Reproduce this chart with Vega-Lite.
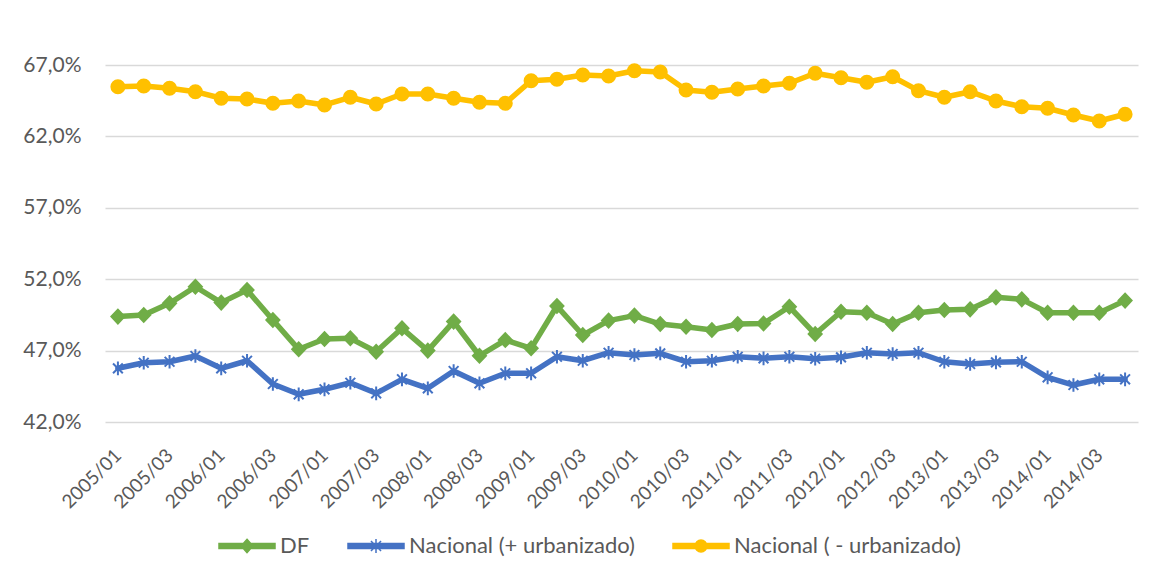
{
  "$schema": "https://vega.github.io/schema/vega-lite/v6.json",
  "width": 1033,
  "height": 357,
  "autosize": {"type": "none"},
  "padding": {"left": 105, "top": 65, "right": 28, "bottom": 159},
  "background": "white",
  "config": {
    "view": {"stroke": null},
    "font": "Lato",
    "axis": {"labelColor": "#595959", "labelFont": "Lato"},
    "legend": {"labelColor": "#595959", "labelFont": "Lato", "labelLimit": 0}
  },
  "data": {"values": [
    {"t":"2005/01","s":"DF","v":49.38},{"t":"2005/02","s":"DF","v":49.49},{"t":"2005/03","s":"DF","v":50.31},{"t":"2005/04","s":"DF","v":51.47},
    {"t":"2006/01","s":"DF","v":50.36},{"t":"2006/02","s":"DF","v":51.24},{"t":"2006/03","s":"DF","v":49.14},{"t":"2006/04","s":"DF","v":47.09},
    {"t":"2007/01","s":"DF","v":47.81},{"t":"2007/02","s":"DF","v":47.86},{"t":"2007/03","s":"DF","v":46.92},{"t":"2007/04","s":"DF","v":48.56},
    {"t":"2008/01","s":"DF","v":47.0},{"t":"2008/02","s":"DF","v":49.03},{"t":"2008/03","s":"DF","v":46.64},{"t":"2008/04","s":"DF","v":47.74},
    {"t":"2009/01","s":"DF","v":47.16},{"t":"2009/02","s":"DF","v":50.12},{"t":"2009/03","s":"DF","v":48.09},{"t":"2009/04","s":"DF","v":49.1},
    {"t":"2010/01","s":"DF","v":49.45},{"t":"2010/02","s":"DF","v":48.86},{"t":"2010/03","s":"DF","v":48.67},{"t":"2010/04","s":"DF","v":48.44},
    {"t":"2011/01","s":"DF","v":48.86},{"t":"2011/02","s":"DF","v":48.9},{"t":"2011/03","s":"DF","v":50.07},{"t":"2011/04","s":"DF","v":48.16},
    {"t":"2012/01","s":"DF","v":49.72},{"t":"2012/02","s":"DF","v":49.65},{"t":"2012/03","s":"DF","v":48.86},{"t":"2012/04","s":"DF","v":49.65},
    {"t":"2013/01","s":"DF","v":49.84},{"t":"2013/02","s":"DF","v":49.89},{"t":"2013/03","s":"DF","v":50.73},{"t":"2013/04","s":"DF","v":50.59},
    {"t":"2014/01","s":"DF","v":49.65},{"t":"2014/02","s":"DF","v":49.65},{"t":"2014/03","s":"DF","v":49.65},{"t":"2014/04","s":"DF","v":50.5},

    {"t":"2005/01","s":"Nacional (+ urbanizado)","v":45.76},{"t":"2005/02","s":"Nacional (+ urbanizado)","v":46.15},{"t":"2005/03","s":"Nacional (+ urbanizado)","v":46.22},{"t":"2005/04","s":"Nacional (+ urbanizado)","v":46.62},
    {"t":"2006/01","s":"Nacional (+ urbanizado)","v":45.76},{"t":"2006/02","s":"Nacional (+ urbanizado)","v":46.29},{"t":"2006/03","s":"Nacional (+ urbanizado)","v":44.66},{"t":"2006/04","s":"Nacional (+ urbanizado)","v":43.94},
    {"t":"2007/01","s":"Nacional (+ urbanizado)","v":44.29},{"t":"2007/02","s":"Nacional (+ urbanizado)","v":44.75},{"t":"2007/03","s":"Nacional (+ urbanizado)","v":44.01},{"t":"2007/04","s":"Nacional (+ urbanizado)","v":44.99},
    {"t":"2008/01","s":"Nacional (+ urbanizado)","v":44.36},{"t":"2008/02","s":"Nacional (+ urbanizado)","v":45.57},{"t":"2008/03","s":"Nacional (+ urbanizado)","v":44.71},{"t":"2008/04","s":"Nacional (+ urbanizado)","v":45.41},
    {"t":"2009/01","s":"Nacional (+ urbanizado)","v":45.41},{"t":"2009/02","s":"Nacional (+ urbanizado)","v":46.57},{"t":"2009/03","s":"Nacional (+ urbanizado)","v":46.29},{"t":"2009/04","s":"Nacional (+ urbanizado)","v":46.85},
    {"t":"2010/01","s":"Nacional (+ urbanizado)","v":46.69},{"t":"2010/02","s":"Nacional (+ urbanizado)","v":46.81},{"t":"2010/03","s":"Nacional (+ urbanizado)","v":46.22},{"t":"2010/04","s":"Nacional (+ urbanizado)","v":46.29},
    {"t":"2011/01","s":"Nacional (+ urbanizado)","v":46.57},{"t":"2011/02","s":"Nacional (+ urbanizado)","v":46.46},{"t":"2011/03","s":"Nacional (+ urbanizado)","v":46.57},{"t":"2011/04","s":"Nacional (+ urbanizado)","v":46.43},
    {"t":"2012/01","s":"Nacional (+ urbanizado)","v":46.53},{"t":"2012/02","s":"Nacional (+ urbanizado)","v":46.85},{"t":"2012/03","s":"Nacional (+ urbanizado)","v":46.76},{"t":"2012/04","s":"Nacional (+ urbanizado)","v":46.85},
    {"t":"2013/01","s":"Nacional (+ urbanizado)","v":46.22},{"t":"2013/02","s":"Nacional (+ urbanizado)","v":46.06},{"t":"2013/03","s":"Nacional (+ urbanizado)","v":46.18},{"t":"2013/04","s":"Nacional (+ urbanizado)","v":46.22},
    {"t":"2014/01","s":"Nacional (+ urbanizado)","v":45.13},{"t":"2014/02","s":"Nacional (+ urbanizado)","v":44.59},{"t":"2014/03","s":"Nacional (+ urbanizado)","v":44.99},{"t":"2014/04","s":"Nacional (+ urbanizado)","v":44.99},

    {"t":"2005/01","s":"Nacional ( - urbanizado)","v":65.48},{"t":"2005/02","s":"Nacional ( - urbanizado)","v":65.53},{"t":"2005/03","s":"Nacional ( - urbanizado)","v":65.37},{"t":"2005/04","s":"Nacional ( - urbanizado)","v":65.13},
    {"t":"2006/01","s":"Nacional ( - urbanizado)","v":64.67},{"t":"2006/02","s":"Nacional ( - urbanizado)","v":64.62},{"t":"2006/03","s":"Nacional ( - urbanizado)","v":64.32},{"t":"2006/04","s":"Nacional ( - urbanizado)","v":64.48},
    {"t":"2007/01","s":"Nacional ( - urbanizado)","v":64.2},{"t":"2007/02","s":"Nacional ( - urbanizado)","v":64.74},{"t":"2007/03","s":"Nacional ( - urbanizado)","v":64.27},{"t":"2007/04","s":"Nacional ( - urbanizado)","v":64.97},
    {"t":"2008/01","s":"Nacional ( - urbanizado)","v":64.97},{"t":"2008/02","s":"Nacional ( - urbanizado)","v":64.67},{"t":"2008/03","s":"Nacional ( - urbanizado)","v":64.39},{"t":"2008/04","s":"Nacional ( - urbanizado)","v":64.32},
    {"t":"2009/01","s":"Nacional ( - urbanizado)","v":65.9},{"t":"2009/02","s":"Nacional ( - urbanizado)","v":66.0},{"t":"2009/03","s":"Nacional ( - urbanizado)","v":66.3},{"t":"2009/04","s":"Nacional ( - urbanizado)","v":66.23},
    {"t":"2010/01","s":"Nacional ( - urbanizado)","v":66.6},{"t":"2010/02","s":"Nacional ( - urbanizado)","v":66.51},{"t":"2010/03","s":"Nacional ( - urbanizado)","v":65.25},{"t":"2010/04","s":"Nacional ( - urbanizado)","v":65.09},
    {"t":"2011/01","s":"Nacional ( - urbanizado)","v":65.32},{"t":"2011/02","s":"Nacional ( - urbanizado)","v":65.53},{"t":"2011/03","s":"Nacional ( - urbanizado)","v":65.72},{"t":"2011/04","s":"Nacional ( - urbanizado)","v":66.42},
    {"t":"2012/01","s":"Nacional ( - urbanizado)","v":66.11},{"t":"2012/02","s":"Nacional ( - urbanizado)","v":65.79},{"t":"2012/03","s":"Nacional ( - urbanizado)","v":66.18},{"t":"2012/04","s":"Nacional ( - urbanizado)","v":65.2},
    {"t":"2013/01","s":"Nacional ( - urbanizado)","v":64.74},{"t":"2013/02","s":"Nacional ( - urbanizado)","v":65.13},{"t":"2013/03","s":"Nacional ( - urbanizado)","v":64.48},{"t":"2013/04","s":"Nacional ( - urbanizado)","v":64.08},
    {"t":"2014/01","s":"Nacional ( - urbanizado)","v":63.97},{"t":"2014/02","s":"Nacional ( - urbanizado)","v":63.5},{"t":"2014/03","s":"Nacional ( - urbanizado)","v":63.08},{"t":"2014/04","s":"Nacional ( - urbanizado)","v":63.55}
  ]},
  "encoding": {
    "x": {
      "field": "t", "type": "ordinal", "sort": null,
      "scale": {"type": "point", "padding": 0.5},
      "axis": {
        "title": null,
        "values": ["2005/01","2005/03","2006/01","2006/03","2007/01","2007/03","2008/01","2008/03","2009/01","2009/03","2010/01","2010/03","2011/01","2011/03","2012/01","2012/03","2013/01","2013/03","2014/01","2014/03"],
        "labelAngle": -45, "labelAlign": "right", "labelBaseline": "middle",
        "labelFontSize": 19, "labelPadding": 30, "labelOverlap": false, "labelBound": false, "labelFlush": false,
        "ticks": false, "domain": false, "grid": false
      }
    },
    "y": {
      "field": "v", "type": "quantitative",
      "scale": {"domain": [42, 67], "nice": false, "zero": false},
      "axis": {
        "title": null,
        "values": [42, 47, 52, 57, 62, 67],
        "labelExpr": "replace(format(datum.value, '.1f'), '.', ',') + '%'",
        "labelFontSize": 21, "labelPadding": 24,
        "ticks": false, "domain": false,
        "grid": true, "gridColor": "#d9d9d9", "gridWidth": 1.3
      }
    }
  },
  "layer": [
    {
      "mark": {"type": "line", "strokeWidth": 5.5, "strokeCap": "round", "strokeJoin": "round"},
      "encoding": {
        "color": {"field": "s", "type": "nominal", "legend": null,
          "scale": {"domain": ["DF", "Nacional (+ urbanizado)", "Nacional ( - urbanizado)"], "range": ["#70AD47", "#4472C4", "#FFC000"]}}
      }
    },
    {
      "mark": {"type": "point", "filled": true, "opacity": 1, "strokeWidth": 2, "size": 170},
      "encoding": {
        "color": {"field": "s", "type": "nominal", "legend": null,
          "scale": {"domain": ["DF", "Nacional (+ urbanizado)", "Nacional ( - urbanizado)"], "range": ["#70AD47", "#4472C4", "#FFC000"]}},
        "stroke": {"field": "s", "type": "nominal", "legend": null,
          "scale": {"domain": ["DF", "Nacional (+ urbanizado)", "Nacional ( - urbanizado)"], "range": ["#70AD47", "#4472C4", "#FFC000"]}},
        "shape": {"field": "s", "type": "nominal", "legend": null,
          "scale": {"domain": ["DF", "Nacional (+ urbanizado)", "Nacional ( - urbanizado)"],
            "range": ["M0,-1.05L1,0L0,1.05L-1,0Z", "M-0.75,-0.75L0.75,0.75M0.75,-0.75L-0.75,0.75M0,-1.05L0,1.05", "circle"]}}
      }
    },
    {
      "transform": [{"filter": "false"}],
      "mark": {"type": "point", "filled": true, "opacity": 1, "strokeWidth": 1.5},
      "encoding": {
        "color": {"field": "s", "type": "nominal",
          "scale": {"domain": ["DF", "Nacional (+ urbanizado)", "Nacional ( - urbanizado)"], "range": ["#70AD47", "#4472C4", "#FFC000"]},
          "legend": {"title": null, "orient": "none", "legendX": 113, "legendY": 452, "direction": "horizontal", "symbolSize": 3136, "labelFontSize": 22, "labelOffset": 4, "columnPadding": 35, "padding": 0, "symbolStrokeWidth": 1.5, "labelLimit": 0}},
        "stroke": {"field": "s", "type": "nominal",
          "scale": {"domain": ["DF", "Nacional (+ urbanizado)", "Nacional ( - urbanizado)"], "range": ["#70AD47", "#4472C4", "#FFC000"]},
          "legend": {"title": null, "orient": "none", "legendX": 113, "legendY": 452, "direction": "horizontal", "symbolSize": 3136, "labelFontSize": 22, "labelOffset": 4, "columnPadding": 35, "padding": 0, "symbolStrokeWidth": 1.5, "labelLimit": 0}},
        "shape": {"field": "s", "type": "nominal",
          "scale": {"domain": ["DF", "Nacional (+ urbanizado)", "Nacional ( - urbanizado)"],
            "range": [
              "M-1,-0.09L1,-0.09L1,0.09L-1,0.09Z M0,-0.24L0.21,0L0,0.24L-0.21,0Z",
              "M-1,-0.09L1,-0.09L1,0.09L-1,0.09Z M-0.18,-0.18L0.18,0.18M0.18,-0.18L-0.18,0.18M0,-0.25L0,0.25",
              "M-1,-0.09L1,-0.09L1,0.09L-1,0.09Z M-0.21,0A0.21,0.21,0,1,1,0.21,0A0.21,0.21,0,1,1,-0.21,0Z"
            ]},
          "legend": {"title": null, "orient": "none", "legendX": 113, "legendY": 452, "direction": "horizontal", "symbolSize": 3136, "labelFontSize": 22, "labelOffset": 4, "columnPadding": 35, "padding": 0, "symbolStrokeWidth": 1.5, "labelLimit": 0}}
      }
    }
  ],
  "resolve": {
    "scale": {"shape": "independent"},
    "legend": {"color": "independent", "stroke": "independent", "shape": "independent"}
  }
}
